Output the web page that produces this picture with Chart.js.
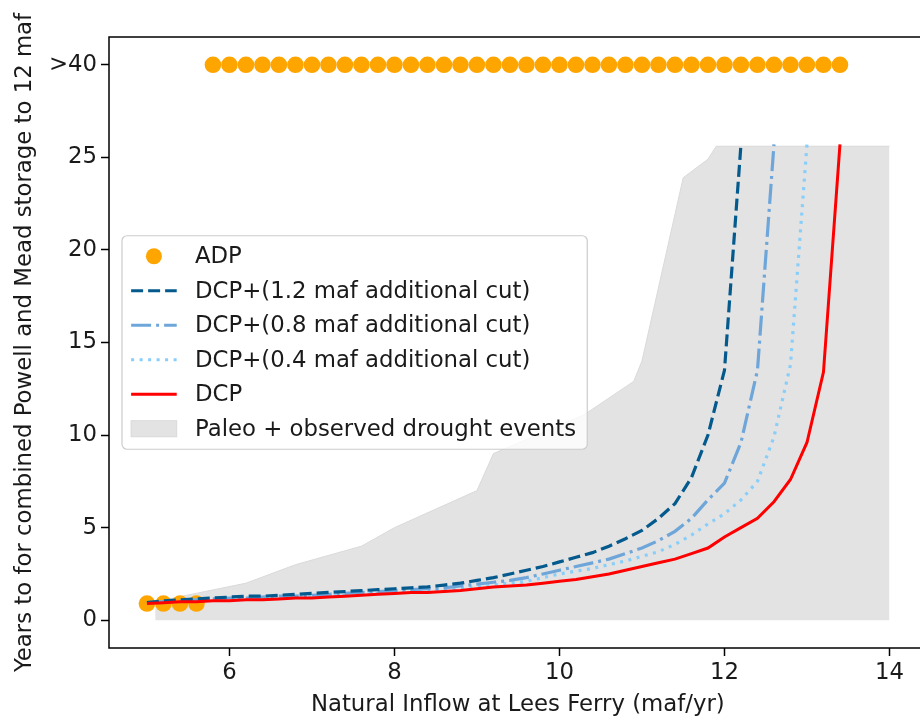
<!DOCTYPE html>
<html>
<head>
<meta charset="utf-8">
<script src="https://cdn.jsdelivr.net/npm/chart.js@4.4.0/dist/chart.umd.min.js"></script>
<style>
html, body { margin: 0; padding: 0; background: #fff; overflow: hidden; }
canvas { display: block; }
</style>
</head>
<body>
<canvas id="droughtChart" width="940" height="719"></canvas>
<script>
// Natural inflow at Lees Ferry (maf/yr)
const inflow = [5.0, 5.2, 5.4, 5.6, 5.8, 6.0, 6.2, 6.4, 6.6, 6.8, 7.0, 7.2, 7.4, 7.6, 7.8,
  8.0, 8.2, 8.4, 8.6, 8.8, 9.0, 9.2, 9.4, 9.6, 9.8, 10.0, 10.2, 10.4, 10.6, 10.8,
  11.0, 11.2, 11.4, 11.6, 11.8, 12.0, 12.2, 12.4, 12.6, 12.8, 13.0, 13.2, 13.4];

// years to 12 maf ; 30 stands for ">40"
const adp = [0.9, 0.9, 0.9, 0.9, 30, 30, 30, 30, 30, 30, 30, 30, 30, 30, 30,
  30, 30, 30, 30, 30, 30, 30, 30, 30, 30, 30, 30, 30, 30, 30,
  30, 30, 30, 30, 30, 30, 30, 30, 30, 30, 30, 30, 30];
const dcpCut12 = [0.95, 1.05, 1.1, 1.15, 1.2, 1.25, 1.3, 1.3, 1.35, 1.4, 1.45, 1.5, 1.55, 1.6, 1.65,
  1.7, 1.75, 1.8, 1.9, 2.0, 2.15, 2.3, 2.5, 2.7, 2.9, 3.15, 3.4, 3.65, 4.0, 4.4,
  4.85, 5.5, 6.3, 7.7, 10.0, 13.5, 25.7, null, null, null, null, null, null];
const dcpCut08 = [0.95, 1.0, 1.05, 1.1, 1.15, 1.2, 1.2, 1.25, 1.3, 1.3, 1.35, 1.4, 1.45, 1.5, 1.55,
  1.6, 1.65, 1.7, 1.75, 1.85, 1.95, 2.05, 2.15, 2.3, 2.5, 2.7, 2.9, 3.1, 3.3, 3.6,
  3.9, 4.3, 4.8, 5.5, 6.5, 7.4, 9.6, 13.5, 25.7, null, null, null, null];
const dcpCut04 = [0.92, 1.0, 1.0, 1.05, 1.1, 1.1, 1.15, 1.2, 1.2, 1.25, 1.3, 1.35, 1.35, 1.4, 1.45,
  1.5, 1.55, 1.6, 1.65, 1.7, 1.8, 1.9, 2.0, 2.1, 2.3, 2.5, 2.65, 2.8, 3.0, 3.2,
  3.45, 3.7, 4.1, 4.6, 5.2, 5.75, 6.5, 7.5, 9.9, 13.8, 25.7, null, null];
const dcp = [0.9, 0.95, 1.0, 1.0, 1.05, 1.05, 1.1, 1.1, 1.15, 1.2, 1.2, 1.25, 1.3, 1.35, 1.4,
  1.45, 1.5, 1.5, 1.55, 1.6, 1.7, 1.8, 1.85, 1.9, 2.0, 2.1, 2.2, 2.35, 2.5, 2.7,
  2.9, 3.1, 3.3, 3.6, 3.9, 4.5, 5.0, 5.5, 6.4, 7.6, 9.6, 13.4, 25.7];

// envelope of paleo + observed drought events
const paleoX = [5.1, 6.2, 6.8, 7.6, 8.0, 9.0, 9.2, 10.3, 10.9, 11.0, 11.5, 11.8, 11.9, 14.0];
const paleoY = [1.0, 2.0, 3.0, 4.0, 5.0, 7.0, 9.0, 11.1, 12.9, 14.0, 23.9, 24.9, 25.6, 25.6];

const xTicks = [6, 8, 10, 12, 14];
const yTicks = [0, 5, 10, 15, 20, 25, 30];
const yTickLabels = ['0', '5', '10', '15', '20', '25', '>40'];

const FONT = '"DejaVu Sans", "Liberation Sans", sans-serif';
const FS = 22.8;
const TXT = '#1a1a1a';

function pts(xs, ys) {
  const out = [];
  xs.forEach((x, i) => { if (ys[i] !== null) out.push({x: x, y: ys[i]}); });
  return out;
}

// matplotlib-ish legend box, center left inside the axes
const legendBox = {
  id: 'legendBox',
  afterDatasetsDraw(chart) {
    const ctx = chart.ctx;
    const area = chart.chartArea;
    const sets = chart.data.datasets;
    ctx.save();
    ctx.font = FS + 'px ' + FONT;
    const textW = Math.max(...sets.map(d => ctx.measureText(d.label).width));
    const pad = 0.4 * FS, handleLen = 2 * FS, gap = 0.8 * FS, rowH = 34.5;
    const w = pad * 2 + handleLen + gap + textW + 2;
    const h = rowH * (sets.length - 1) + 41;
    const left = area.left + 13;
    const top = (area.top + area.bottom) / 2 - h / 2;

    ctx.beginPath();
    ctx.roundRect(left, top, w, h, 5);
    ctx.fillStyle = 'rgba(255,255,255,0.8)';
    ctx.fill();
    ctx.lineWidth = 1.2;
    ctx.strokeStyle = '#cccccc';
    ctx.stroke();

    sets.forEach((d, i) => {
      const cy = top + 20.5 + i * rowH;
      const hx = left + pad;
      if (d.legendKind === 'dot') {
        ctx.beginPath();
        ctx.arc(hx + handleLen / 2, cy, 8, 0, Math.PI * 2);
        ctx.fillStyle = d.pointBackgroundColor;
        ctx.fill();
      } else if (d.legendKind === 'patch') {
        ctx.fillStyle = d.backgroundColor;
        ctx.fillRect(hx, cy - 8, handleLen, 16);
        ctx.lineWidth = 1;
        ctx.strokeStyle = d.borderColor;
        ctx.strokeRect(hx, cy - 8, handleLen, 16);
      } else {
        ctx.beginPath();
        ctx.setLineDash(d.borderDash || []);
        ctx.lineWidth = d.borderWidth;
        ctx.strokeStyle = d.borderColor;
        ctx.moveTo(hx, cy);
        ctx.lineTo(hx + handleLen, cy);
        ctx.stroke();
        ctx.setLineDash([]);
      }
      ctx.fillStyle = TXT;
      ctx.textBaseline = 'middle';
      ctx.textAlign = 'left';
      ctx.fillText(d.label, hx + handleLen + gap, cy + 1);
    });
    ctx.restore();
  },
  afterDraw(chart) {
    const ctx = chart.ctx;
    const a = chart.chartArea;
    ctx.save();
    ctx.lineWidth = 1.5;
    ctx.strokeStyle = '#000';
    ctx.strokeRect(a.left, a.top, a.right - a.left, a.bottom - a.top);
    ctx.restore();
  }
};

const ctx = document.getElementById('droughtChart').getContext('2d');

const droughtChart = new Chart(ctx, {
  type: 'line',
  data: {
    datasets: [{
      label: 'ADP',
      legendKind: 'dot',
      data: pts(inflow, adp),
      showLine: false,
      pointRadius: 8.3,
      pointBorderWidth: 0,
      pointBackgroundColor: '#ffa500',
      borderColor: '#ffa500',
      order: 2
    }, {
      label: 'DCP+(1.2 maf additional cut)',
      data: pts(inflow, dcpCut12),
      borderColor: '#045a8d',
      borderWidth: 3.2,
      borderDash: [12, 5],
      pointRadius: 0,
      order: 1
    }, {
      label: 'DCP+(0.8 maf additional cut)',
      data: pts(inflow, dcpCut08),
      borderColor: '#6ea6da',
      borderWidth: 3.2,
      borderDash: [20, 5, 3, 5],
      pointRadius: 0,
      order: 1
    }, {
      label: 'DCP+(0.4 maf additional cut)',
      data: pts(inflow, dcpCut04),
      borderColor: '#87cefa',
      borderWidth: 3.2,
      borderDash: [3, 5.5],
      pointRadius: 0,
      order: 1
    }, {
      label: 'DCP',
      data: pts(inflow, dcp),
      borderColor: '#ff0000',
      borderWidth: 3,
      pointRadius: 0,
      order: 0
    }, {
      label: 'Paleo + observed drought events',
      legendKind: 'patch',
      data: pts(paleoX, paleoY),
      borderColor: '#d9d9d9',
      backgroundColor: '#e3e3e3',
      borderWidth: 1,
      pointRadius: 0,
      fill: 'origin',
      order: 3
    }]
  },
  options: {
    responsive: false,
    animation: false,
    layout: { padding: { top: 37, right: 13.4, left: 0, bottom: 0 } },
    plugins: {
      legend: { display: false },
      tooltip: { enabled: false }
    },
    elements: { line: { tension: 0 } },
    scales: {
      x: {
        type: 'linear',
        min: 4.54,
        max: 14.45,
        afterBuildTicks: s => { s.ticks = xTicks.map(v => ({value: v})); },
        afterFit: s => { s.height = 71; },
        border: { display: false },
        grid: { drawOnChartArea: false, drawTicks: true, tickLength: 8, tickWidth: 1.5, color: '#000' },
        ticks: { color: TXT, padding: 3, maxRotation: 0, font: { family: FONT, size: FS } },
        title: {
          display: true,
          text: 'Natural Inflow at Lees Ferry (maf/yr)',
          color: TXT,
          font: { family: FONT, size: FS, lineHeight: 1.2 },
          padding: { top: 0, bottom: 0 }
        }
      },
      y: {
        type: 'linear',
        min: -1.5,
        max: 31.5,
        afterBuildTicks: s => { s.ticks = yTicks.map(v => ({value: v})); },
        afterFit: s => { s.width = 109; },
        border: { display: false },
        grid: { drawOnChartArea: false, drawTicks: true, tickLength: 8, tickWidth: 1.5, color: '#000' },
        ticks: {
          color: TXT,
          padding: 4,
          font: { family: FONT, size: FS },
          callback: v => yTickLabels[yTicks.indexOf(v)]
        },
        title: {
          display: true,
          text: 'Years to for combined Powell and Mead storage to 12 maf',
          color: TXT,
          font: { family: FONT, size: FS, lineHeight: 1.2 },
          padding: { top: 11, bottom: 0 }
        }
      }
    }
  },
  plugins: [legendBox]
});
</script>
</body>
</html>
